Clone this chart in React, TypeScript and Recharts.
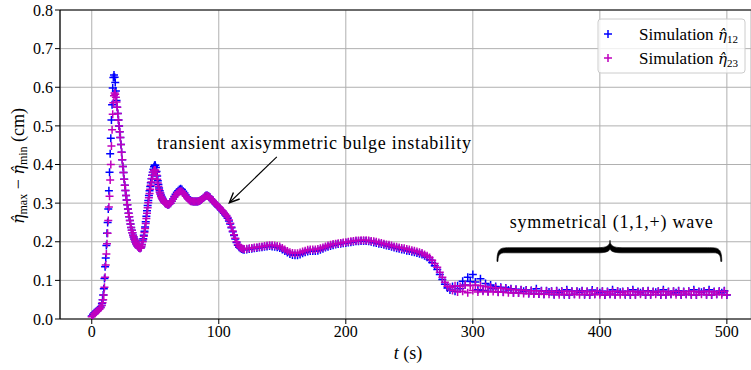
import React from 'react';
import {
  ScatterChart,
  Scatter,
  XAxis,
  YAxis,
  CartesianGrid,
  ReferenceLine,
  Customized,
} from 'recharts';

// sample times (s): 1 s at the start, 0.5 s through both early peaks,
// 1 s through the plateau drop, 2 s afterwards
const times = [
  0, 1, 2, 3, 4, 5, 6, 7, 8,
  8.5, 9, 9.5, 10, 10.5, 11, 11.5, 12, 12.5, 13,
  13.5, 14, 14.5, 15, 15.5, 16, 16.5, 17, 17.5, 18,
  18.5, 19, 19.5, 20, 20.5, 21, 21.5, 22, 22.5, 23,
  23.5, 24, 24.5, 25, 25.5, 26, 26.5, 27, 27.5, 28,
  28.5, 29, 29.5, 30, 30.5, 31, 31.5, 32, 32.5, 33,
  33.5, 34, 34.5, 35, 35.5, 36, 36.5, 37, 37.5, 38,
  38.5, 39, 39.5, 40, 40.5, 41, 41.5, 42, 42.5, 43,
  43.5, 44, 44.5, 45, 45.5, 46, 46.5, 47, 47.5, 48,
  48.5, 49, 49.5, 50, 50.5, 51, 51.5, 52, 52.5, 53,
  53.5, 54, 54.5, 55, 55.5, 56, 56.5, 57, 57.5, 58,
  58.5, 59, 59.5, 60,
  61, 62, 63, 64, 65, 66, 67, 68, 69, 70,
  71, 72, 73, 74, 75, 76, 77, 78, 79, 80,
  81, 82, 83, 84, 85, 86, 87, 88, 89, 90,
  91, 92, 93, 94, 95, 96, 97, 98, 99, 100,
  101, 102, 103, 104, 105, 106, 107, 108, 109, 110,
  111, 112, 113, 114, 115, 116, 117, 118, 119, 120,
  122, 124, 126, 128, 130, 132, 134, 136, 138, 140,
  142, 144, 146, 148, 150, 152, 154, 156, 158, 160,
  162, 164, 166, 168, 170, 172, 174, 176, 178, 180,
  182, 184, 186, 188, 190, 192, 194, 196, 198, 200,
  202, 204, 206, 208, 210, 212, 214, 216, 218, 220,
  222, 224, 226, 228, 230, 232, 234, 236, 238, 240,
  242, 244, 246, 248, 250, 252, 254, 256, 258, 260,
  262, 264, 266, 268, 270, 272, 274, 276, 278, 280,
  282, 284, 286, 288, 290, 292, 294, 296, 298, 300,
  302, 304, 306, 308, 310, 312, 314, 316, 318, 320,
  322, 324, 326, 328, 330, 332, 334, 336, 338, 340,
  342, 344, 346, 348, 350, 352, 354, 356, 358, 360,
  362, 364, 366, 368, 370, 372, 374, 376, 378, 380,
  382, 384, 386, 388, 390, 392, 394, 396, 398, 400,
  402, 404, 406, 408, 410, 412, 414, 416, 418, 420,
  422, 424, 426, 428, 430, 432, 434, 436, 438, 440,
  442, 444, 446, 448, 450, 452, 454, 456, 458, 460,
  462, 464, 466, 468, 470, 472, 474, 476, 478, 480,
  482, 484, 486, 488, 490, 492, 494, 496, 498, 500,
];

// eta_max - eta_min (cm), probe pair 1-2
const eta12 = [
  0.008, 0.012, 0.016, 0.019, 0.021, 0.024, 0.027, 0.031, 0.040,
  0.050, 0.062, 0.078, 0.105, 0.135, 0.158, 0.190, 0.222, 0.250, 0.285,
  0.332, 0.380, 0.428, 0.468, 0.515, 0.555, 0.598, 0.625, 0.632, 0.626,
  0.612, 0.590, 0.566, 0.548, 0.532, 0.515, 0.500, 0.485, 0.470, 0.452,
  0.432, 0.412, 0.395, 0.379, 0.362, 0.346, 0.333, 0.320, 0.308, 0.296,
  0.285, 0.274, 0.265, 0.255, 0.246, 0.237, 0.230, 0.223, 0.217, 0.212,
  0.207, 0.203, 0.199, 0.195, 0.192, 0.189, 0.187, 0.185, 0.184, 0.183,
  0.184, 0.187, 0.193, 0.202, 0.208, 0.217, 0.227, 0.238, 0.252, 0.266,
  0.280, 0.294, 0.307, 0.320, 0.332, 0.343, 0.353, 0.363, 0.372, 0.380,
  0.388, 0.394, 0.398, 0.398, 0.392, 0.382, 0.370, 0.358, 0.348, 0.339,
  0.332, 0.326, 0.321, 0.317, 0.313, 0.310, 0.307, 0.304, 0.302, 0.300,
  0.299, 0.298, 0.297, 0.296,
  0.297, 0.300, 0.305, 0.311, 0.317, 0.323, 0.328, 0.332, 0.335, 0.337,
  0.335, 0.331, 0.326, 0.321, 0.316, 0.312, 0.308, 0.306, 0.305, 0.304,
  0.304, 0.304, 0.304, 0.305, 0.306, 0.308, 0.311, 0.314, 0.317, 0.320,
  0.320, 0.318, 0.315, 0.311, 0.307, 0.303, 0.299, 0.296, 0.292, 0.289,
  0.286, 0.282, 0.278, 0.274, 0.270, 0.266, 0.261, 0.254, 0.246, 0.236,
  0.226, 0.216, 0.207, 0.198, 0.191, 0.186, 0.183, 0.181, 0.180, 0.179,
  0.180, 0.181, 0.182, 0.183, 0.184, 0.185, 0.186, 0.187, 0.188, 0.189,
  0.188, 0.187, 0.186, 0.184, 0.180, 0.176, 0.172, 0.168, 0.166, 0.165,
  0.165, 0.167, 0.170, 0.173, 0.175, 0.176, 0.176, 0.176, 0.177, 0.179,
  0.182, 0.185, 0.187, 0.189, 0.191, 0.193, 0.194, 0.195, 0.196, 0.197,
  0.198, 0.199, 0.200, 0.201, 0.201, 0.202, 0.202, 0.202, 0.201, 0.200,
  0.198, 0.197, 0.195, 0.194, 0.192, 0.190, 0.189, 0.187, 0.185, 0.183,
  0.182, 0.180, 0.179, 0.177, 0.176, 0.174, 0.173, 0.171, 0.169, 0.167,
  0.164, 0.160, 0.154, 0.146, 0.138, 0.128, 0.115, 0.102, 0.090, 0.080,
  0.075, 0.084, 0.072, 0.086, 0.078, 0.098, 0.088, 0.108, 0.097, 0.115,
  0.096, 0.076, 0.104, 0.074, 0.092, 0.072, 0.088, 0.078, 0.084, 0.070,
  0.082, 0.070, 0.080, 0.075, 0.078, 0.068, 0.077, 0.068, 0.076, 0.072,
  0.075, 0.066, 0.074, 0.066, 0.078, 0.065, 0.073, 0.064, 0.073, 0.070,
  0.072, 0.063, 0.073, 0.068, 0.072, 0.063, 0.076, 0.062, 0.072, 0.064,
  0.072, 0.069, 0.073, 0.063, 0.071, 0.062, 0.075, 0.064, 0.072, 0.068,
  0.072, 0.062, 0.071, 0.064, 0.076, 0.063, 0.072, 0.069, 0.071, 0.063,
  0.072, 0.062, 0.076, 0.063, 0.071, 0.068, 0.072, 0.062, 0.073, 0.063,
  0.071, 0.069, 0.072, 0.062, 0.076, 0.063, 0.071, 0.064, 0.072, 0.068,
  0.073, 0.062, 0.071, 0.064, 0.072, 0.063, 0.076, 0.062, 0.071, 0.069,
  0.072, 0.063, 0.076, 0.062, 0.071, 0.064, 0.072, 0.068, 0.073, 0.062,
];

// eta_max - eta_min (cm), probe pair 2-3
const eta23 = [
  0.006, 0.010, 0.014, 0.017, 0.020, 0.022, 0.025, 0.029, 0.035,
  0.042, 0.050, 0.062, 0.082, 0.108, 0.140, 0.168, 0.195, 0.222, 0.255,
  0.290, 0.318, 0.360, 0.400, 0.448, 0.490, 0.530, 0.560, 0.578, 0.585,
  0.582, 0.574, 0.562, 0.548, 0.532, 0.515, 0.500, 0.485, 0.470, 0.452,
  0.432, 0.412, 0.395, 0.379, 0.362, 0.346, 0.333, 0.320, 0.308, 0.296,
  0.285, 0.274, 0.265, 0.255, 0.246, 0.237, 0.230, 0.223, 0.217, 0.212,
  0.207, 0.203, 0.199, 0.195, 0.192, 0.189, 0.187, 0.185, 0.184, 0.183,
  0.184, 0.187, 0.192, 0.200, 0.206, 0.214, 0.224, 0.234, 0.247, 0.260,
  0.274, 0.288, 0.301, 0.314, 0.325, 0.336, 0.346, 0.355, 0.364, 0.372,
  0.379, 0.384, 0.386, 0.385, 0.380, 0.372, 0.362, 0.352, 0.343, 0.335,
  0.328, 0.323, 0.318, 0.314, 0.311, 0.308, 0.306, 0.303, 0.301, 0.300,
  0.299, 0.298, 0.297, 0.296,
  0.297, 0.300, 0.305, 0.310, 0.315, 0.320, 0.325, 0.328, 0.330, 0.331,
  0.330, 0.327, 0.323, 0.318, 0.314, 0.310, 0.307, 0.305, 0.305, 0.304,
  0.304, 0.304, 0.304, 0.305, 0.306, 0.308, 0.311, 0.314, 0.317, 0.319,
  0.319, 0.317, 0.315, 0.311, 0.307, 0.303, 0.300, 0.297, 0.293, 0.290,
  0.287, 0.283, 0.280, 0.276, 0.272, 0.268, 0.263, 0.256, 0.248, 0.238,
  0.228, 0.218, 0.209, 0.200, 0.193, 0.188, 0.185, 0.183, 0.182, 0.181,
  0.182, 0.183, 0.184, 0.185, 0.186, 0.187, 0.188, 0.189, 0.190, 0.191,
  0.191, 0.190, 0.189, 0.188, 0.184, 0.180, 0.176, 0.173, 0.171, 0.170,
  0.170, 0.172, 0.175, 0.177, 0.179, 0.180, 0.180, 0.180, 0.181, 0.183,
  0.185, 0.188, 0.190, 0.192, 0.194, 0.195, 0.196, 0.197, 0.198, 0.199,
  0.200, 0.201, 0.202, 0.203, 0.203, 0.204, 0.204, 0.204, 0.203, 0.202,
  0.201, 0.200, 0.198, 0.197, 0.195, 0.193, 0.192, 0.190, 0.188, 0.187,
  0.185, 0.184, 0.183, 0.181, 0.180, 0.178, 0.177, 0.175, 0.173, 0.171,
  0.167, 0.164, 0.159, 0.152, 0.144, 0.134, 0.121, 0.108, 0.095, 0.085,
  0.082, 0.074, 0.086, 0.070, 0.084, 0.072, 0.088, 0.068, 0.086, 0.074,
  0.088, 0.070, 0.086, 0.072, 0.084, 0.070, 0.082, 0.071, 0.081, 0.069,
  0.080, 0.069, 0.078, 0.068, 0.077, 0.067, 0.076, 0.067, 0.075, 0.066,
  0.074, 0.066, 0.073, 0.065, 0.073, 0.065, 0.072, 0.064, 0.072, 0.064,
  0.071, 0.064, 0.072, 0.063, 0.071, 0.064, 0.072, 0.063, 0.071, 0.064,
  0.071, 0.063, 0.072, 0.064, 0.071, 0.063, 0.071, 0.064, 0.072, 0.063,
  0.071, 0.063, 0.070, 0.064, 0.071, 0.063, 0.072, 0.063, 0.070, 0.064,
  0.071, 0.063, 0.072, 0.063, 0.070, 0.064, 0.071, 0.063, 0.072, 0.063,
  0.070, 0.064, 0.071, 0.063, 0.072, 0.063, 0.070, 0.064, 0.071, 0.063,
  0.072, 0.063, 0.070, 0.064, 0.071, 0.063, 0.072, 0.063, 0.070, 0.064,
  0.071, 0.063, 0.072, 0.063, 0.070, 0.064, 0.071, 0.063, 0.072, 0.063,
];

const xTicks = [0, 100, 200, 300, 400, 500];
const yTicks = [0, 0.1, 0.2, 0.3, 0.4, 0.5, 0.6, 0.7, 0.8];

const W = 751;
const H = 370;
const PLOT = { left: 60, top: 10, width: 691, height: 309 };
const X_DOMAIN: [number, number] = [-25, 519];
const Y_DOMAIN: [number, number] = [0, 0.8];

const BLUE = '#0000ff';
const MAGENTA = '#bf00bf';
const GRID = '#b0b0b0';
const FONT = '"Liberation Serif", "Times New Roman", serif';
const MATH_FONT = '"DejaVu Serif", serif';
const HAT_ETA = '\u03B7\u0302';

// annotation anchors, in data units
const bulgeNote = { t: 175, v: 0.456 };
const bulgeArrow = { from: [145.7, 0.42], to: [108.3, 0.301] };
const waveNote = { t: 409, v: 0.251 };
const waveBrace = { t0: 319, t1: 496, tm: 408, vBar: 0.178, vEnd: 0.149, vTip: 0.204 };

const sx = (t: number) =>
  PLOT.left + ((t - X_DOMAIN[0]) / (X_DOMAIN[1] - X_DOMAIN[0])) * PLOT.width;
const sy = (v: number) =>
  PLOT.top + (1 - (v - Y_DOMAIN[0]) / (Y_DOMAIN[1] - Y_DOMAIN[0])) * PLOT.height;

const data12 = times.map((t, i) => ({ t, v: eta12[i] }));
const data23 = times.map((t, i) => ({ t, v: eta23[i] }));

function Plus({ cx, cy, color }: { cx?: number; cy?: number; color: string }) {
  if (cx == null || cy == null) return null;
  return (
    <path
      d={`M${cx - 4},${cy}H${cx + 4}M${cx},${cy - 4}V${cy + 4}`}
      stroke={color}
      strokeWidth={1.5}
      fill="none"
    />
  );
}

// italic eta with a hat, set in a font that places the combining mark
function EtaHat({ size }: { size: number }) {
  return (
    <tspan fontFamily={MATH_FONT} fontStyle="italic" fontSize={size}>
      {HAT_ETA}
    </tspan>
  );
}

function Brace() {
  const xL = sx(waveBrace.t0);
  const xR = sx(waveBrace.t1);
  const xM = sx(waveBrace.tm);
  const yB = sy(waveBrace.vBar);
  const yE = sy(waveBrace.vEnd);
  const yT = sy(waveBrace.vTip);
  const h = 2.6;
  const d = [
    `M${xL},${yE}`,
    `C${xL},${yB - 3} ${xL + 4},${yB - h} ${xL + 14},${yB - h}`,
    `L${xM - 12},${yB - h}`,
    `C${xM - 4},${yB - h} ${xM},${yB - 4} ${xM},${yT}`,
    `C${xM},${yB - 4} ${xM + 4},${yB - h} ${xM + 12},${yB - h}`,
    `L${xR - 14},${yB - h}`,
    `C${xR - 4},${yB - h} ${xR},${yB - 3} ${xR},${yE}`,
    `L${xR - 1},${yE}`,
    `C${xR - 1},${yB + 1} ${xR - 6},${yB + h} ${xR - 14},${yB + h}`,
    `L${xM + 12},${yB + h}`,
    `C${xM + 4},${yB + h} ${xM},${yB + 1} ${xM},${yB - 2}`,
    `C${xM},${yB + 1} ${xM - 4},${yB + h} ${xM - 12},${yB + h}`,
    `L${xL + 14},${yB + h}`,
    `C${xL + 6},${yB + h} ${xL + 1},${yB + 1} ${xL + 1},${yE}`,
    'Z',
  ].join(' ');
  return <path d={d} fill="#000" stroke="#000" strokeWidth={0.6} />;
}

function Arrow() {
  const x0 = sx(bulgeArrow.from[0]);
  const y0 = sy(bulgeArrow.from[1]);
  const x1 = sx(bulgeArrow.to[0]);
  const y1 = sy(bulgeArrow.to[1]);
  const ang = Math.atan2(y0 - y1, x0 - x1);
  const len = 11;
  const spread = 0.42;
  const ax = x1 + len * Math.cos(ang + spread);
  const ay = y1 + len * Math.sin(ang + spread);
  const bx = x1 + len * Math.cos(ang - spread);
  const by = y1 + len * Math.sin(ang - spread);
  return (
    <g stroke="#000" strokeWidth={1.1} fill="none">
      <line x1={x0} y1={y0} x2={x1} y2={y1} />
      <path d={`M${ax},${ay}L${x1},${y1}L${bx},${by}`} strokeWidth={1.4} />
    </g>
  );
}

function LegendBox() {
  const rows = [
    { color: BLUE, sub: '12' },
    { color: MAGENTA, sub: '23' },
  ];
  return (
    <g fontFamily={FONT} fontSize={17}>
      <rect x={598} y={19} width={147} height={54} rx={3} fill="#fff" fillOpacity={0.8} stroke="#cccccc" />
      {rows.map((r, i) => (
        <g key={r.sub}>
          <Plus cx={608} cy={34 + i * 24} color={r.color} />
          <text x={639} y={40 + i * 24} fill="#000">
            {'Simulation '}
            <EtaHat size={15} />
            <tspan fontSize={11} dy={3}>{r.sub}</tspan>
          </text>
        </g>
      ))}
    </g>
  );
}

function Overlay() {
  return (
    <g>
      <text
        x={sx(bulgeNote.t)}
        y={sy(bulgeNote.v)}
        textAnchor="middle"
        dominantBaseline="central"
        fontFamily={FONT}
        fontSize={18}
        textLength={314}
        lengthAdjust="spacing"
        fill="#000"
      >
        transient axisymmetric bulge instability
      </text>
      <Arrow />
      <text
        x={sx(waveNote.t)}
        y={sy(waveNote.v)}
        textAnchor="middle"
        dominantBaseline="central"
        fontFamily={FONT}
        fontSize={18}
        textLength={203}
        lengthAdjust="spacing"
        fill="#000"
      >
        symmetrical (1,1,+) wave
      </text>
      <Brace />
      <LegendBox />
      {/* axis titles */}
      <text
        transform="translate(24, 166) rotate(-90)"
        textAnchor="middle"
        fontFamily={FONT}
        fontSize={18}
        fill="#000"
      >
        <EtaHat size={16} />
        <tspan fontSize={12} dy={3}>max</tspan>
        <tspan dy={-3}>{' − '}</tspan>
        <EtaHat size={16} />
        <tspan fontSize={12} dy={3}>min</tspan>
        <tspan dy={-3}>{' (cm)'}</tspan>
      </text>
      <text x={408} y={359} textAnchor="middle" fontFamily={FONT} fontSize={18} fill="#000">
        <tspan fontStyle="italic">t</tspan>
        {' (s)'}
      </text>
    </g>
  );
}

export default function App() {
  const tick = { fill: '#000', fontSize: 16, fontFamily: FONT };
  return (
    <div style={{ position: 'absolute', left: 0, top: 0, width: W, height: H, background: '#fff' }}>
      <ScatterChart width={W} height={H} margin={{ top: PLOT.top, right: 0, bottom: 0, left: 0 }}>
        <CartesianGrid stroke={GRID} strokeWidth={1} />
        <XAxis
          type="number"
          dataKey="t"
          domain={X_DOMAIN}
          ticks={xTicks}
          allowDataOverflow
          height={H - PLOT.top - PLOT.height}
          tick={tick}
          tickSize={5}
          tickLine={{ stroke: '#000' }}
          axisLine={{ stroke: '#000', strokeWidth: 1.2 }}
        />
        <YAxis
          type="number"
          dataKey="v"
          domain={Y_DOMAIN}
          ticks={yTicks}
          allowDataOverflow
          width={PLOT.left}
          tick={tick}
          tickSize={5}
          tickFormatter={(v: number) => v.toFixed(1)}
          tickLine={{ stroke: '#000' }}
          axisLine={{ stroke: '#000', strokeWidth: 1.2 }}
        />
        <ReferenceLine y={0.8} stroke="#000" strokeWidth={1.2} />
        <Scatter
          data={data12}
          isAnimationActive={false}
          shape={(p: any) => <Plus cx={p.cx} cy={p.cy} color={BLUE} />}
        />
        <Scatter
          data={data23}
          isAnimationActive={false}
          shape={(p: any) => <Plus cx={p.cx} cy={p.cy} color={MAGENTA} />}
        />
        <Customized component={<Overlay />} />
      </ScatterChart>
    </div>
  );
}
